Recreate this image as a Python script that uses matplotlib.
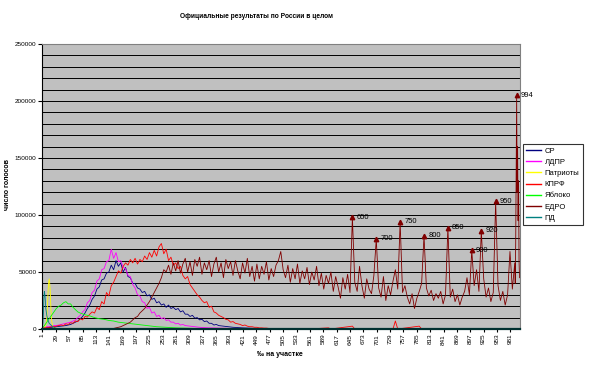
import numpy as np
import matplotlib.pyplot as plt

plt.rcParams['font.family'] = ['Liberation Sans', 'DejaVu Sans']

# СР (тыс. голосов), категории 0..500, дальше ноль
sr_x = [0, 10, 20, 30, 40, 50, 55, 60, 65, 70, 75, 80, 85, 90, 95, 100, 105, 110, 115, 120,
        125, 130, 135, 140, 145, 150, 155, 160, 165, 170, 175, 180, 185, 190, 195, 200, 205,
        210, 215, 220, 225, 230, 235, 240, 245, 250, 255, 260, 265, 270, 275, 280, 285, 290,
        295, 300, 305, 310, 315, 320, 325, 330, 335, 340, 345, 350, 355, 360, 365, 370, 380,
        390, 400, 420, 450, 500, 1000]
sr_k = [0.5, 1, 1.5, 2, 2.5, 3, 3.5, 4, 5, 6, 7, 9, 11, 14, 18, 21, 26, 29, 35, 37,
        43, 44, 49, 50, 56, 52, 60, 55, 58, 50, 54, 46, 45, 40, 40, 36, 35,
        32, 33, 29, 30, 26, 27, 23, 24, 21, 22, 19, 21, 18, 19, 17, 18, 15,
        16, 13, 13, 11, 12, 9.5, 10, 8, 8.5, 6.5, 7, 5, 5, 3.5, 4, 3, 2.5,
        2, 1.5, 1, 0.5, 0.2, 0]

ldpr_x = [0, 5, 10, 15, 20, 25, 30, 35, 40, 45, 50, 55, 60, 65, 70, 75, 80, 85, 90, 95,
          100, 105, 110, 115, 120, 125, 130, 135, 140, 145, 150, 155, 160, 165, 170, 175,
          180, 185, 190, 195, 200, 205, 210, 215, 220, 225, 230, 235, 240, 245, 250, 255,
          260, 265, 270, 275, 280, 285, 290, 295, 300, 310, 320, 330, 340, 350, 370, 400, 1000]
ldpr_k = [1, 1.5, 2, 2, 2.5, 3, 3, 3.5, 4, 4.5, 5, 5.5, 6, 7, 8, 10, 12, 15, 17, 23,
          25, 32, 34, 42, 44, 52, 53, 59, 60, 70, 62, 67, 59, 60, 54, 53,
          47, 46, 39, 36, 30, 29, 24, 23, 18, 19, 14, 15, 11, 12, 9, 10,
          7.5, 8, 6, 6, 4.5, 5, 3.5, 4, 3, 2.5, 2, 1.5, 1.2, 1, 0.8, 0.5, 0]

patr_x = [0, 5, 8, 10, 12, 13, 14, 15, 16, 17, 18, 19, 20, 22, 25, 30, 40, 1000]
patr_k = [0, 0.5, 3, 10, 25, 35, 41, 44, 41, 35, 25, 15, 8, 3, 1, 0.5, 0.2, 0]

kprf_x = [0, 5, 10, 15, 20, 25, 30, 35, 40, 45, 50, 55, 60, 65, 70, 75, 80, 85, 90, 95,
          100, 105, 110, 115, 120, 125, 130, 135, 140, 145, 150, 155, 160, 165, 170, 175,
          180, 185, 190, 195, 200, 205, 210, 215, 220, 225, 230, 235, 240, 245, 250, 255,
          260, 265, 270, 275, 280, 285, 290, 295, 300, 305, 310, 315, 320, 325, 330, 335,
          340, 345, 350, 355, 360, 365, 370, 375, 380, 385, 390, 395, 400, 405, 410, 415,
          420, 425, 430, 435, 440, 445, 450, 455, 460, 465, 470, 475, 480, 490, 500,
          560, 600, 605, 650, 655, 735, 740, 745, 790, 795, 1000]
kprf_k = [0.5, 1, 1, 1.5, 2, 2, 2.5, 3, 3.5, 3, 4.5, 4, 5.5, 5, 7, 6.5, 9, 8, 11, 10.5,
          13, 15, 14, 19, 17, 24, 22, 32, 29, 38, 41, 46, 51, 49, 55, 58,
          56, 61, 58, 62, 57, 61, 59, 64, 61, 67, 63, 69, 64, 72, 75, 66,
          70, 60, 63, 56, 58, 53, 55, 47, 44, 46, 39, 36, 33, 30, 28, 25,
          23, 24, 19, 20, 15, 14, 12, 11, 10, 8.5, 8, 6, 6.5, 5, 4.5, 4,
          3, 3.5, 2.5, 2, 2, 1.5, 1.5, 1, 1, 0.8, 0.8, 0.5, 0.5, 0.3, 0.2,
          0, 1, 0, 2.5, 0, 0, 7, 0, 2.5, 0, 0]

yab_x = [0, 5, 10, 15, 20, 25, 30, 35, 40, 45, 50, 55, 60, 65, 70, 75, 80, 90, 100, 110,
         120, 130, 140, 150, 160, 170, 180, 190, 200, 220, 240, 260, 280, 320, 400, 1000]
yab_k = [0.5, 3, 6, 9, 12, 15, 18, 20, 21, 23, 24, 22, 22, 19, 17, 15, 14, 12.5, 11.5, 10,
         9, 8.5, 7.5, 7, 6, 5.5, 5, 4.5, 4, 3, 2, 1.5, 1, 0.5, 0.2, 0]

# ЕДРО: категории 150..990 шаг 5, затем хвост 991..1000
edro_start = 150
edro_k = [0.5, 1, 1.5, 2, 3, 4, 5, 6, 8, 10,
          11, 14, 16, 18, 21, 24, 28, 32, 36, 40,
          45, 52, 50, 56, 48, 58, 51, 60, 49, 57,
          62, 50, 59, 47, 61, 55, 63, 48, 58, 52,
          60, 46, 57, 63, 50, 58, 45, 61, 53, 59,
          47, 60, 51, 44, 58, 49, 62, 46, 55, 42,
          57, 44, 55, 48, 59, 43, 53, 46, 56, 60,
          68, 52, 45, 56, 41, 53, 44, 57, 40, 51,
          44, 54, 39, 50, 43, 55, 38, 49, 35, 47,
          40, 50, 33, 46, 37, 27, 45, 35, 48, 32,
          98, 41, 33, 55, 38, 27, 44, 35, 31, 47,
          79, 36, 28, 46, 25, 38, 30, 42, 52, 35,
          94, 32, 38, 28, 22, 31, 18, 27, 33, 40,
          82, 36, 29, 34, 25, 31, 27, 33, 22, 30,
          89, 28, 35, 24, 30, 21, 28, 33, 45, 30,
          69, 38, 52, 33, 86, 44, 28, 36, 24, 32,
          112, 38, 25, 33, 21, 30, 68, 35, 58]
edro_tail_x = [991, 992, 993, 994, 995, 996, 997, 998, 999, 1000]
edro_tail_k = [40, 75, 140, 205, 120, 160, 95, 130, 60, 45]

pd_x = [0, 2, 3, 4, 5, 6, 7, 8, 10, 12, 15, 20, 25, 30, 1000]
pd_k = [0, 5, 15, 28, 33, 30, 25, 18, 12, 8, 5, 3, 1.5, 0.5, 0]

spike_labels = [650, 700, 750, 800, 850, 900, 920, 950, 994]

series = ['СР', 'ЛДПР', 'Патриоты', 'КПРФ', 'Яблоко', 'ЕДРО', 'ПД']
colors = ['#000080', '#FF00FF', '#FFFF00', '#FF0000', '#00FF00', '#800000', '#008080']

edro_x = list(range(edro_start, 991, 5)) + edro_tail_x
edro_all = edro_k + edro_tail_k

data = [(sr_x, sr_k), (ldpr_x, ldpr_k), (patr_x, patr_k), (kprf_x, kprf_k),
        (yab_x, yab_k), (edro_x, edro_all), (pd_x, pd_k)]

fig = plt.figure(figsize=(5.9, 3.72), dpi=100)
ax = fig.add_axes([42 / 590, 43 / 372, 478 / 590, 285 / 372])
ax.set_facecolor('#C0C0C0')

for (xs, ks), name, c in zip(data, series, colors):
    ax.plot(xs, np.array(ks) * 1000, color=c, lw=0.6, label=name)

# стрелки над пиками ЕДРО
for s in spike_labels:
    v = edro_all[edro_x.index(s)] * 1000
    ax.plot(s, v, marker='^', color='#800000', ms=3.2, mec='#800000')
    ax.annotate(str(s), (s, v), xytext=(3, 0), textcoords='offset points',
                fontsize=5.4, va='center', ha='left')

ax.set_xlim(0, 1001)
ax.set_ylim(0, 250000)
ax.set_yticks(np.arange(0, 250001, 50000))
ax.set_yticks(np.arange(0, 250001, 10000), minor=True)
ax.yaxis.grid(True, which='both', color='#000000', lw=0.7)
ax.set_axisbelow(True)
ax.tick_params(axis='y', which='minor', length=0)
ax.tick_params(axis='y', which='major', length=3, labelsize=4.6, pad=1)

xt = list(range(1, 982, 28))
ax.set_xticks(xt)
ax.set_xticklabels([str(t) for t in xt], rotation=90)
ax.tick_params(axis='x', length=2, labelsize=4.6, pad=1.5)

for sp in ['top', 'right']:
    ax.spines[sp].set_color('#808080')
    ax.spines[sp].set_linewidth(0.8)
ax.spines['left'].set_linewidth(0.8)
ax.spines['bottom'].set_linewidth(1.6)
ax.spines['bottom'].set_color('#003030')

fig.text(257 / 590, 1 - 17 / 372, 'Официальные результаты по России в целом',
         ha='center', va='center', fontsize=4.8, fontweight='bold')
fig.text(280 / 590, 1 - 355 / 372, '‰ на участке', ha='center', va='center',
         fontsize=5, fontweight='bold')
fig.text(8 / 590, 1 - 185 / 372, 'число голосов', ha='center', va='center',
         rotation=90, fontsize=5, fontweight='bold')

leg = fig.legend(loc='center left', bbox_to_anchor=(523 / 590, 1 - 184.5 / 372),
                 fontsize=5.5, frameon=True, fancybox=False, borderpad=0.45,
                 labelspacing=0.5, handlelength=1.9, handletextpad=0.45,
                 borderaxespad=0)
leg.get_frame().set_edgecolor('black')
leg.get_frame().set_linewidth(0.8)
for line in leg.get_lines():
    line.set_linewidth(1.0)

fig.savefig('out.png', dpi=100)
